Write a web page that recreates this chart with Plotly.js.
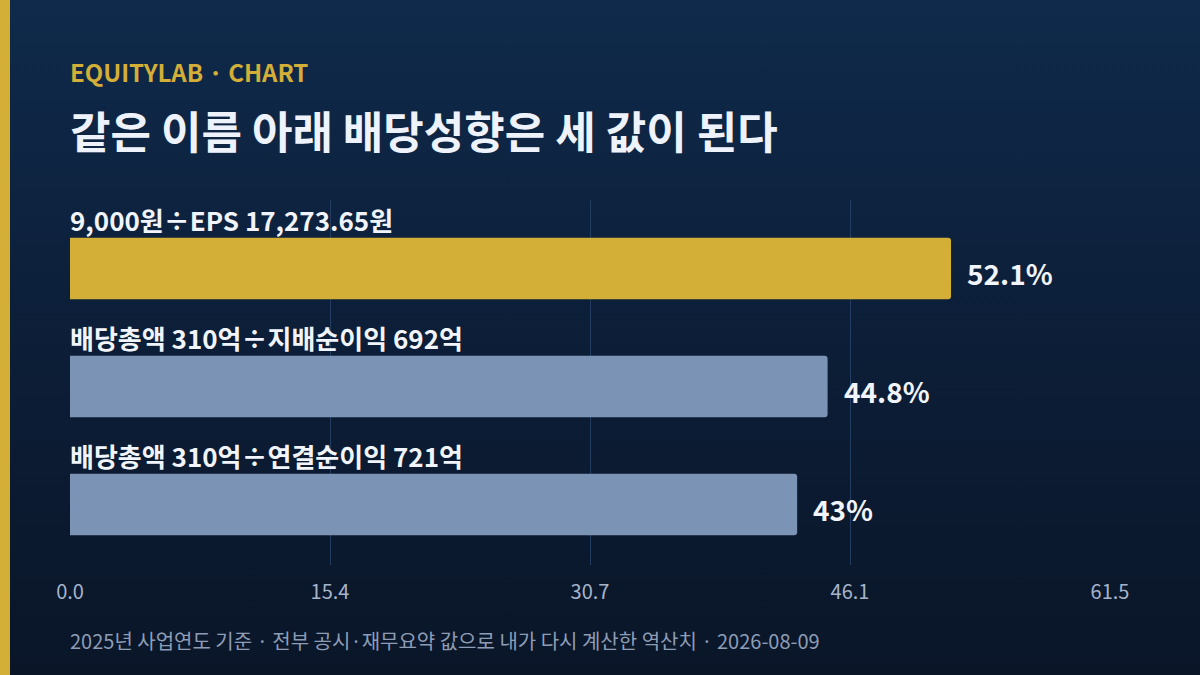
<!DOCTYPE html>
<html>
<head>
<meta charset="utf-8">
<script src="https://cdn.plot.ly/plotly-3.0.1.min.js"></script>
<style>
  html, body { margin: 0; padding: 0; }
  body {
    width: 1200px; height: 675px; overflow: hidden; position: relative;
    background: linear-gradient(180deg, #0f2a4b 0%, #0c1d36 55%, #0a1628 100%);
  }
  #stripe { position: absolute; left: 0; top: 0; width: 10px; height: 675px; background: #d4af37; }
  #chart { position: absolute; left: 0; top: 0; width: 1200px; height: 675px; }
</style>
</head>
<body>
<div id="stripe"></div>
<div id="chart"></div>
<script>
// payout ratio, three ways
const labels = [
  '9,000원÷EPS 17,273.65원',
  '배당총액 310억÷지배순이익 692억',
  '배당총액 310억÷연결순이익 721억'
];
const values = [52.1, 44.8, 43];
const valueText = ['52.1%', '44.8%', '43%'];
const barColors = ['#d4af37', '#7b93b4', '#7b93b4'];
const tickVals = [0, 15.375, 30.75, 46.125, 61.5];
const tickText = ['0.0', '15.4', '30.7', '46.1', '61.5'];

const font = '"Noto Sans CJK KR", "Noto Sans", sans-serif';
const ids = labels.map((_, i) => i);

const trace = {
  type: 'bar',
  orientation: 'h',
  x: values,
  y: ids,
  width: 0.52,
  marker: {color: barColors, line: {width: 0}},
  hoverinfo: 'skip'
};

const annotations = [];
labels.forEach((t, i) => {
  annotations.push({
    x: 0, y: i, xref: 'x', yref: 'y',
    xanchor: 'left', yanchor: 'bottom',
    xshift: -2, yshift: 28, showarrow: false,
    text: '<b>' + t + '</b>',
    font: {family: font, size: 26, color: '#f1f4fa'}
  });
  annotations.push({
    x: values[i], y: i, xref: 'x', yref: 'y',
    xanchor: 'left', yanchor: 'middle',
    xshift: 14, yshift: -5, showarrow: false,
    text: '<b>' + valueText[i] + '</b>',
    font: {family: font, size: 28, color: '#f1f4fa'}
  });
});

// header, title, footer
annotations.push({
  xref: 'paper', yref: 'paper', x: 0, y: 1, xanchor: 'left', yanchor: 'middle',
  xshift: -2, yshift: 129, showarrow: false,
  text: '<b>EQUITYLAB · CHART</b>',
  font: {family: font, size: 24, color: '#d4af37'}
});
annotations.push({
  xref: 'paper', yref: 'paper', x: 0, y: 1, xanchor: 'left', yanchor: 'middle',
  xshift: -2, yshift: 70, showarrow: false,
  text: '<b>같은 이름 아래 배당성향은 세 값이 된다</b>',
  font: {family: font, size: 44, color: '#eef2fa'}
});
annotations.push({
  xref: 'paper', yref: 'paper', x: 0, y: 0, xanchor: 'left', yanchor: 'middle',
  xshift: -2, yshift: -75, showarrow: false,
  text: '2025년 사업연도 기준 · 전부 공시·재무요약 값으로 내가 다시 계산한 역산치 · 2026-08-09',
  font: {family: font, size: 20, color: '#8e9db6'}
});

const layout = {
  width: 1200,
  height: 675,
  paper_bgcolor: 'rgba(0,0,0,0)',
  plot_bgcolor: 'rgba(0,0,0,0)',
  margin: {l: 70, r: 90, t: 200, b: 110},
  showlegend: false,
  barcornerradius: 3,
  font: {family: font},
  xaxis: {
    range: [0, 61.5],
    tickvals: tickVals,
    ticktext: tickText,
    showgrid: true,
    gridcolor: '#223d60',
    gridwidth: 1,
    zeroline: false,
    showline: false,
    ticks: '',
    ticklabelstandoff: 13,
    tickfont: {family: font, size: 20, color: '#a6b4ca'},
    fixedrange: true
  },
  yaxis: {
    range: [2.513, -0.58],
    showgrid: false,
    zeroline: false,
    showticklabels: false,
    fixedrange: true
  },
  annotations
};

Plotly.newPlot('chart', [trace], layout, {displayModeBar: false, staticPlot: true});
</script>
</body>
</html>
